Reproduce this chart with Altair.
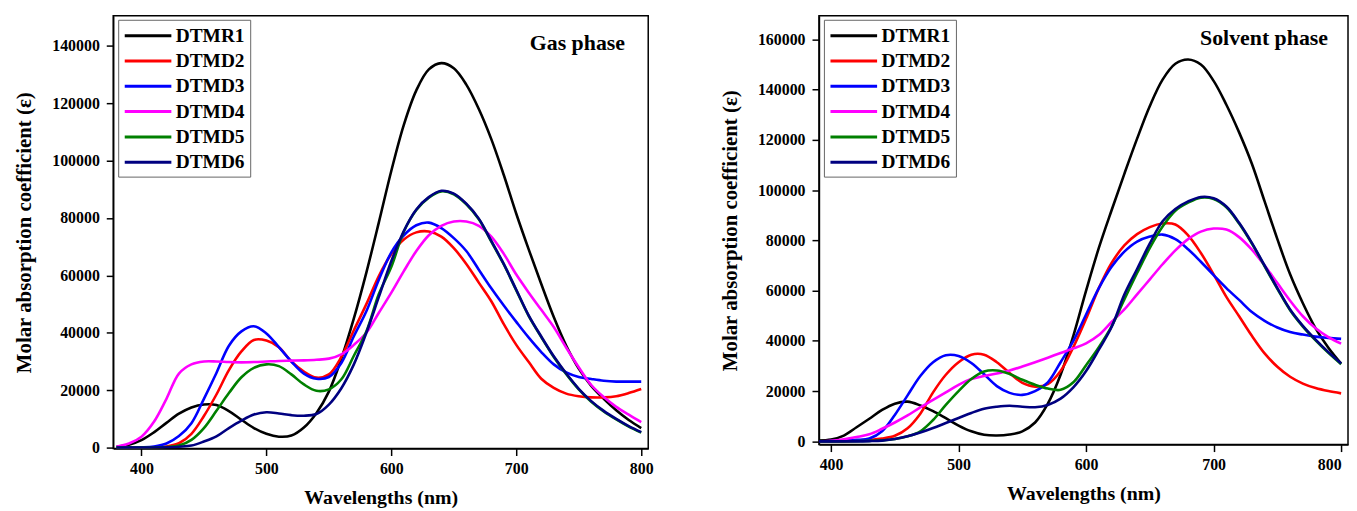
import altair as alt
import pandas as pd

series = ["DTMR1", "DTMD2", "DTMD3", "DTMD4", "DTMD5", "DTMD6"]
colors = ["#000000", "#ff0000", "#0000ff", "#ff00ff", "#008000", "#000080"]

x_ticks = [400, 500, 600, 700, 800]
gas_y_ticks = [0, 20000, 40000, 60000, 80000, 100000, 120000, 140000]
sol_y_ticks = [0, 20000, 40000, 60000, 80000, 100000, 120000, 140000, 160000]

# ---- Gas phase (wavelength samples, nm) ----
gas_wl = [380, 390, 400, 410, 420, 430, 440, 450, 460, 470,
          480, 490, 500, 510, 520, 530, 540, 550, 560, 570,
          580, 590, 600, 610, 620, 630, 640, 650, 660, 670,
          680, 690, 700, 710, 720, 730, 740, 750, 760, 770,
          780, 790, 800]
gas_dtmr1 = [300, 1000, 2600, 5300, 8600, 11800, 14000, 15000, 14800, 12700,
             9700, 6800, 4800, 3800, 4200, 7000, 12000, 19500, 31000, 45000,
             61000, 78500, 96500, 112500, 124500, 131800, 134000, 132200, 126500, 118000,
             107500, 95000, 81500, 69000, 57000, 45500, 35500, 27500, 21500, 17000,
             13000, 9600, 6800]
gas_dtmd2 = [0, 0, 0, 100, 400, 1500, 4800, 11000, 18500, 27000,
             33500, 37500, 37300, 35000, 30000, 26500, 24400, 25500, 31600, 40900,
             50000, 59800, 67500, 72500, 75000, 75300, 73500, 69500, 64000, 57500,
             51000, 43000, 35800, 29800, 24000, 20800, 18800, 17900, 17500, 17500,
             17900, 19000, 20400]
gas_dtmd3 = [0, 0, 100, 400, 1400, 4000, 8500, 17000, 26000, 35500,
             40500, 42300, 39800, 35000, 30000, 25800, 24000, 24600, 29500, 38800,
             47500, 58500, 68000, 74000, 77500, 78400, 76500, 73000, 68500, 62000,
             55500, 49500, 43800, 38300, 33300, 29000, 26200, 24600, 23900, 23300,
             23000, 23000, 23000]
gas_dtmd4 = [300, 1400, 3800, 9000, 17000, 25800, 29000, 30000, 30000, 29800,
             29700, 29800, 30000, 30200, 30300, 30400, 30600, 31000, 32500, 35800,
             40000, 47000, 54000, 61500, 68500, 74000, 77300, 78800, 78800, 77300,
             73500, 67500, 60300, 54000, 48000, 42000, 34800, 28000, 21800, 17600,
             14200, 11500, 8900]
gas_dtmd5 = [0, 0, 0, 0, 200, 700, 2700, 6800, 12800, 19000,
             24500, 27800, 29000, 28400, 25500, 22000, 19800, 20300, 23800, 32000,
             40500, 53500, 63000, 75300, 82800, 87100, 89300, 88300, 84800, 79600,
             71800, 63800, 54800, 45800, 38500, 31600, 25600, 20300, 16000, 12600,
             9800, 7300, 5200]
gas_dtmd6 = [0, 0, 0, 0, 100, 300, 700, 2100, 3900, 6800,
             9400, 11500, 12300, 11900, 11300, 11100, 11700, 15000, 20700, 29000,
             40000, 52500, 65000, 75500, 83000, 87300, 89500, 88500, 85000, 79800,
             72000, 64000, 55000, 46000, 38700, 31800, 25800, 20500, 16200, 12800,
             10000, 7500, 5400]

# ---- Solvent phase ----
sol_wl = [390, 400, 410, 420, 430, 440, 450, 460, 470, 480,
          490, 500, 510, 520, 530, 540, 550, 560, 570, 580,
          590, 600, 610, 620, 630, 640, 650, 660, 670, 680,
          690, 700, 710, 720, 730, 740, 750, 760, 770, 780,
          790, 800]
sol_dtmr1 = [300, 700, 2300, 5600, 9000, 12500, 15000, 15800, 14300, 12000,
             9200, 6300, 4000, 2600, 2300, 2700, 4000, 7500, 15000, 26500,
             42000, 60000, 77000, 92000, 106500, 120500, 133500, 144000, 150300, 152000,
             150000, 143500, 134000, 123000, 110500, 95500, 80500, 66500, 55000, 45000,
             37300, 31000]
sol_dtmd2 = [0, 0, 100, 300, 600, 1100, 2200, 5200, 11000, 19500,
             26500, 31500, 34500, 34500, 31500, 27200, 23300, 21800, 22800, 28000,
             37500, 48800, 61000, 71000, 78000, 82500, 85300, 86700, 86300, 82000,
             75000, 66500, 57500, 49800, 42000, 35000, 29700, 25700, 23000, 21200,
             20000, 19100]
sol_dtmd3 = [0, 100, 300, 600, 1100, 4000, 10500, 18300, 26000, 31500,
             34300, 34000, 31200, 26700, 22000, 19300, 18500, 20000, 23500, 31500,
             40000, 50500, 61000, 69500, 75500, 79500, 81500, 82300, 80500, 76500,
             71500, 66200, 61000, 56300, 51500, 48000, 45300, 43500, 42500, 41700,
             41200, 40800]
sol_dtmd4 = [0, 200, 800, 1700, 2800, 5000, 7500, 10300, 13500, 16500,
             19500, 22500, 24800, 26000, 27000, 28200, 29800, 31500, 33300, 35200,
             37000, 39000, 42300, 47500, 52500, 58500, 64500, 70500, 76000, 80500,
             83500, 84700, 84300, 81300, 76300, 70000, 63000, 56000, 49800, 45000,
             41500, 38900]
sol_dtmd5 = [0, 0, 0, 100, 200, 400, 900, 2000, 4000, 8500,
             14500, 20000, 24800, 27800, 28200, 26800, 24500, 22500, 21000, 20500,
             23500, 30300, 37500, 45800, 56500, 67000, 77000, 85500, 91800, 95000,
             97000, 96500, 93200, 86700, 78700, 69700, 60700, 52200, 45700, 40200,
             35200, 30700]
sol_dtmd6 = [0, 0, 0, 0, 100, 300, 900, 2000, 3500, 5300,
             7300, 9300, 11300, 13000, 13800, 14200, 13800, 13600, 14500, 17000,
             21500, 28000, 36500, 45500, 58400, 68600, 78800, 87600, 92500, 95500,
             97300, 96800, 93500, 87000, 79000, 70000, 61000, 52500, 46000, 40500,
             35500, 31000]

gas_values = [gas_dtmr1, gas_dtmd2, gas_dtmd3, gas_dtmd4, gas_dtmd5, gas_dtmd6]
sol_values = [sol_dtmr1, sol_dtmd2, sol_dtmd3, sol_dtmd4, sol_dtmd5, sol_dtmd6]

FONT = "Liberation Serif"


def make_df(wl, values):
    rows = []
    for name, vals in zip(series, values):
        for w, v in zip(wl, vals):
            rows.append({"wl": w, "val": v, "series": name})
    return pd.DataFrame(rows)


def panel(df, xdom, ydom, yticks, label, label_pos, width, height, flush):
    xaxis_kw = dict(values=x_ticks, title="Wavelengths (nm)", titlePadding=11,
                    labelPadding=5, titleFontSize=20)
    if flush:
        xaxis_kw["labelFlush"] = 10
    x = alt.X("wl:Q", scale=alt.Scale(domain=xdom, nice=False, zero=False),
              axis=alt.Axis(**xaxis_kw))
    y = alt.Y("val:Q", scale=alt.Scale(domain=ydom, nice=False, zero=False),
              axis=alt.Axis(values=yticks, format="d",
                            title="Molar absorption coefficient (\u03b5)",
                            titlePadding=17, labelPadding=7, titleFontSize=21))
    color = alt.Color("series:N",
                      scale=alt.Scale(domain=series, range=colors),
                      legend=alt.Legend(title=None, orient="none", legendX=5, legendY=4,
                                        symbolType="M-1,0H4", symbolSize=353,
                                        symbolStrokeWidth=3,
                                        labelFont=FONT, labelFontSize=19.5,
                                        labelFontWeight="bold", labelColor="black",
                                        labelOffset=31, rowPadding=4.5, padding=5,
                                        strokeColor="#666666", fillColor="white"))
    lines = alt.Chart(df).mark_line(strokeWidth=2.6, interpolate="catmull-rom",
                                    clip=True).encode(x=x, y=y, color=color)
    tdf = pd.DataFrame({"wl": [label_pos[0]], "val": [label_pos[1]], "t": [label]})
    text = alt.Chart(tdf).mark_text(align="right", baseline="middle", font=FONT,
                                    fontSize=22, fontWeight="bold",
                                    color="black").encode(x="wl:Q", y="val:Q", text="t:N")
    return alt.layer(lines, text).properties(width=width, height=height)


gas = panel(make_df(gas_wl, gas_values), [377.4, 805.6], [-350, 150480], gas_y_ticks,
            "Gas phase", (787, 140900), 539, 436, False)
sol = panel(make_df(sol_wl, sol_values), [390.5, 805.4], [-1300, 169400], sol_y_ticks,
            "Solvent phase", (789.7, 160700), 533, 432, True)

chart = alt.hconcat(gas, sol, spacing=65).resolve_scale(
    x="independent", y="independent", color="independent"
).resolve_legend(color="independent").properties(
    padding={"top": 5, "left": 5, "right": 0, "bottom": 0}
).configure_view(stroke="black", strokeWidth=1.5).configure_axis(
    grid=False, domainColor="black", domainWidth=1.5, tickColor="black",
    tickWidth=1.5, tickSize=7,
    labelFont=FONT, labelFontSize=16, labelFontWeight="bold", labelColor="black",
    titleFont=FONT, titleFontWeight="bold", titleColor="black"
)

chart.save("out.html", embed_options={"renderer": "svg", "actions": False})
